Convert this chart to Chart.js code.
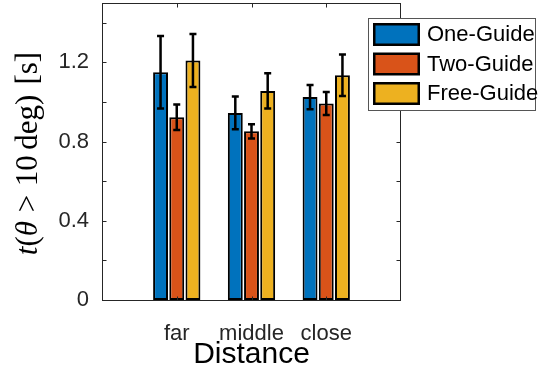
<!DOCTYPE html>
<html><head><meta charset="utf-8">
<script src="https://cdn.jsdelivr.net/npm/chart.js@4.4.1/dist/chart.umd.min.js"></script>
<style>html,body{margin:0;padding:0;background:#fff}#wrap{width:538px;height:376px}</style>
</head><body><div id="wrap"><canvas id="c" width="538" height="376"></canvas></div>
<script>
const categories = ['far', 'middle', 'close'];
const seriesNames = ['One-Guide', 'Two-Guide', 'Free-Guide'];
const oneGuide = [1.15, 0.945, 1.025];
const twoGuide = [0.923, 0.852, 0.992];
const freeGuide = [1.21, 1.056, 1.135];
const oneGuideErr = [0.183, 0.083, 0.061];
const twoGuideErr = [0.065, 0.036, 0.058];
const freeGuideErr = [0.134, 0.089, 0.105];
const yTickValues = [0, 0.2, 0.4, 0.6, 0.8, 1.0, 1.2, 1.4];
const yTickLabels = ['0', '', '0.4', '', '0.8', '', '1.2', ''];
const xTitle = 'Distance';
const seriesColors = ['#0072BD', '#D95319', '#EDB120'];

const AX = '#262626';
const pad = arr => [null, ...arr, null];
const labels = ['', ...categories, ''];
const values = [oneGuide, twoGuide, freeGuide];
const errs = [oneGuideErr, twoGuideErr, freeGuideErr];

const datasets = seriesNames.map((name, k) => ({
  label: name,
  data: pad(values[k]),
  errors: pad(errs[k]),
  backgroundColor: seriesColors[k],
  borderColor: '#000',
  borderWidth: 2,
  borderSkipped: false,
  categoryPercentage: 0.65,
  barPercentage: 0.92
}));

const deco = {
  id: 'deco',
  afterDatasetsDraw(chart) {
    const ctx = chart.ctx, ys = chart.scales.y;
    chart.data.datasets.forEach((ds, d) => {
      const meta = chart.getDatasetMeta(d);
      meta.data.forEach((bar, i) => {
        const v = ds.data[i], e = ds.errors[i];
        if (v == null) return;
        const x = bar.x, y1 = ys.getPixelForValue(v + e), y2 = ys.getPixelForValue(v - e);
        ctx.save();
        ctx.strokeStyle = '#000'; ctx.lineWidth = 2.5; ctx.lineCap = 'butt';
        ctx.beginPath();
        ctx.moveTo(x, y1 - 1); ctx.lineTo(x, y2 + 1);
        ctx.moveTo(x - 3.5, y1); ctx.lineTo(x + 3.5, y1);
        ctx.moveTo(x - 3.5, y2); ctx.lineTo(x + 3.5, y2);
        ctx.stroke();
        ctx.restore();
      });
    });
  },
  afterDraw(chart) {
    const ctx = chart.ctx, ca = chart.chartArea, ys = chart.scales.y, xs = chart.scales.x;
    const L = Math.round(ca.left) + 0.5, R = Math.round(ca.right) - 0.5;
    const T = Math.round(ca.top) + 0.5, B = Math.round(ca.bottom) + 0.5;
    ctx.save();
    ctx.strokeStyle = AX; ctx.lineWidth = 1;
    ctx.strokeRect(L, T, R - L, B - T);
    ctx.beginPath();
    yTickValues.forEach(v => {
      const y = Math.round(ys.getPixelForValue(v)) + 0.5;
      ctx.moveTo(L, y); ctx.lineTo(L + 4, y);
      ctx.moveTo(R, y); ctx.lineTo(R - 4, y);
    });
    categories.forEach((c, i) => {
      const x = Math.round(xs.getPixelForValue(i + 1)) + 0.5;
      ctx.moveTo(x, T); ctx.lineTo(x, T + 4);
      ctx.moveTo(x, B); ctx.lineTo(x, B - 4);
    });
    ctx.stroke();

    // y-axis title (mixed italic / upright, LaTeX-like)
    const fs = 31;
    const segs = [
      ['t', true, 0], ['(', false, 0], ['θ', true, 0],
      ['>', false, 0.28], ['10', false, 0.28], ['deg', false, 0.17],
      [')', false, 0], ['[s]', false, 0.33]
    ];
    const fontOf = it => (it ? 'italic ' : '') + fs + 'px "Liberation Serif", "DejaVu Serif", serif';
    let total = 0;
    const widths = segs.map(([t, it, gap]) => {
      ctx.font = fontOf(it);
      const w = ctx.measureText(t).width;
      total += gap * fs + w;
      return w;
    });
    ctx.translate(37, (ca.top + ca.bottom) / 2 + 2);
    ctx.rotate(-Math.PI / 2);
    ctx.fillStyle = '#000';
    ctx.textBaseline = 'alphabetic';
    ctx.textAlign = 'left';
    let x = -total / 2;
    segs.forEach(([t, it, gap], k) => {
      x += gap * fs;
      ctx.font = fontOf(it);
      ctx.fillText(t, x, 0);
      x += widths[k];
    });
    ctx.restore();

    // legend
    ctx.save();
    const lx = 368.5, ly = 18.5, lw = 167, lh = 92;
    ctx.fillStyle = '#fff';
    ctx.fillRect(lx, ly, lw, lh);
    ctx.strokeStyle = '#555'; ctx.lineWidth = 1;
    ctx.strokeRect(lx, ly, lw, lh);
    chart.data.datasets.forEach((ds, i) => {
      const sy = 23 + i * 29.5;
      ctx.fillStyle = '#000';
      ctx.fillRect(373, sy, 47, 23);
      ctx.fillStyle = ds.backgroundColor;
      ctx.fillRect(375.5, sy + 2.5, 42, 18);
      ctx.fillStyle = '#000';
      ctx.font = '22px "Liberation Sans", Arial, sans-serif';
      ctx.textBaseline = 'middle';
      ctx.textAlign = 'left';
      ctx.fillText(ds.label, 427, sy + 12);
    });
    ctx.restore();
  }
};

new Chart(document.getElementById('c'), {
  type: 'bar',
  data: { labels, datasets },
  options: {
    responsive: false,
    devicePixelRatio: 1,
    animation: false,
    events: [],
    layout: { padding: { left: 0, right: 137, top: 3, bottom: 0 } },
    plugins: { legend: { display: false }, tooltip: { enabled: false } },
    scales: {
      x: {
        type: 'category',
        offset: false,
        grid: { display: false },
        border: { display: false },
        ticks: {
          autoSkip: false, maxRotation: 0, minRotation: 0, padding: 13,
          color: AX, font: { family: '"Liberation Sans", Arial, sans-serif', size: 22 }
        },
        title: {
          display: true, text: xTitle, color: '#000',
          font: { family: '"Liberation Sans", Arial, sans-serif', size: 30 },
          padding: { top: 0, bottom: 3 }
        },
        afterFit(s) { s.height = 76; s.paddingLeft = 0; s.paddingRight = 0; }
      },
      y: {
        min: 0, max: 1.5,
        grid: { display: false },
        border: { display: false },
        afterBuildTicks(s) { s.ticks = yTickValues.map(v => ({ value: v })); },
        ticks: {
          padding: 5, color: AX,
          font: { family: '"Liberation Sans", Arial, sans-serif', size: 22 },
          callback(v) { const i = yTickValues.findIndex(t => Math.abs(t - v) < 1e-9); return i >= 0 ? yTickLabels[i] : ''; }
        },
        afterFit(s) { s.width = 102; s.paddingTop = 0; s.paddingBottom = 0; }
      }
    }
  },
  plugins: [deco]
});
</script>
</body></html>
